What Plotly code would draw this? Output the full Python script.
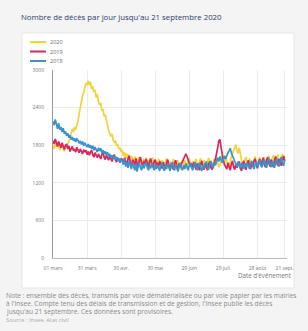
import pandas as pd
import plotly.graph_objects as go

dates = pd.date_range("2020-03-01", "2020-09-21", freq="D")

y2020 = [
    1800,1740,1830,1770,1850,1760,1720,1810,1790,1740,1700,1800,1760,1830,1860,
    1920,1990,2060,2010,2090,2050,2110,2180,2300,2410,2460,2590,2640,2720,2790,2760,
    2830,2760,2810,2700,2740,2650,2680,2560,2610,2500,2440,2470,2350,2380,2260,2290,2170,2120,2030,1990,1940,1980,1880,1850,1870,1790,1810,1740,1760,1690,
    1720,1630,1690,1590,1670,1580,1650,1550,1630,1600,1520,1620,1560,1490,1590,1610,1510,1570,1480,1580,1530,1600,1500,1560,1470,1570,1520,1600,1490,1450,1550,
    1490,1580,1510,1440,1560,1480,1420,1550,1590,1490,1450,1540,1420,1500,1580,1510,1440,1510,1560,1460,1410,1500,1560,1450,1560,1490,1430,1540,1590,1470,
    1450,1550,1440,1520,1580,1460,1420,1540,1590,1480,1440,1560,1490,1420,1520,1600,1490,1440,1430,1550,1590,1480,1610,1520,1450,1490,1580,1640,1560,1500,1620,
    1530,1480,1450,1570,1620,1670,1730,1780,1810,1710,1670,1760,1610,1550,1490,1460,1570,1610,1510,1470,1590,1520,1450,1510,1580,1620,1520,1460,1550,1610,1500,
    1470,1570,1610,1510,1460,1580,1630,1530,1480,1590,1640,1540,1480,1600,1650,1550,1500,1610,1660,1560,1620,
]
y2019 = [
    1870,1820,1900,1840,1780,1860,1810,1760,1840,1770,1730,1800,1820,1740,1790,1700,1760,1780,1710,1740,1690,1770,1720,1680,1740,1700,1660,1730,1690,1720,1650,
    1700,1640,1690,1720,1650,1610,1680,1640,1600,1660,1620,1580,1650,1690,1610,1570,1640,1600,1560,1630,1580,1540,1610,1650,1570,1530,1600,1560,1520,1590,
    1570,1500,1600,1540,1480,1580,1630,1520,1470,1570,1540,1480,1590,1510,1460,1560,1610,1510,1460,1550,1500,1580,1480,1440,1540,1590,1490,1450,1530,1570,1470,
    1520,1450,1550,1490,1430,1530,1470,1420,1520,1570,1470,1420,1510,1450,1410,1520,1560,1460,1420,1510,1450,1500,1540,1580,1620,1660,1620,1550,1510,1460,
    1510,1430,1530,1470,1410,1510,1450,1400,1500,1550,1450,1410,1510,1440,1400,1500,1540,1450,1410,1490,1520,1580,1650,1760,1870,1890,1760,1620,1550,1490,1450,
    1420,1520,1460,1400,1500,1550,1450,1410,1510,1440,1490,1540,1430,1390,1500,1550,1460,1410,1510,1560,1460,1420,1520,1470,1550,1580,1480,1430,1530,1580,1480,
    1540,1600,1490,1450,1560,1610,1510,1460,1570,1500,1450,1560,1620,1520,1470,1580,1540,1470,1580,1630,1550,
]
y2018 = [
    2180,2120,2210,2100,2060,2150,2050,2090,2010,2070,1980,2020,1950,1990,1920,1960,1890,1930,1870,1910,1850,1900,1880,1830,1870,1810,1860,1790,1840,1800,1770,
    1820,1760,1800,1740,1790,1720,1770,1730,1690,1760,1710,1750,1680,1720,1660,1700,1640,1690,1620,1660,1600,1640,1580,1620,1570,1610,1550,1590,1530,1570,
    1550,1490,1580,1460,1530,1440,1550,1480,1420,1520,1460,1400,1500,1380,1460,1520,1440,1400,1500,1430,1480,1530,1440,1400,1490,1430,1520,1450,1400,1480,1420,
    1490,1430,1390,1480,1520,1430,1390,1480,1420,1510,1440,1390,1480,1530,1430,1400,1490,1430,1380,1470,1520,1440,1400,1480,1420,1510,1450,1400,1480,1520,
    1440,1400,1490,1530,1450,1400,1480,1520,1440,1390,1480,1430,1500,1540,1450,1410,1500,1550,1470,1430,1520,1480,1550,1600,1540,1620,1570,1520,1570,1630,1580,
    1640,1680,1710,1750,1680,1620,1580,1540,1500,1460,1540,1460,1430,1520,1470,1420,1510,1450,1520,1460,1420,1510,1550,1460,1420,1500,1540,1450,1510,1560,1470,
    1450,1530,1570,1480,1440,1540,1590,1500,1450,1550,1490,1440,1540,1590,1500,1460,1560,1610,1520,1470,1570,
]

series_names = ["2020", "2019", "2018"]
series_colors = ["#f3d23a", "#d9265c", "#3b93cc"]

tick_dates = ["2020-03-01", "2020-03-31", "2020-04-30", "2020-05-30",
              "2020-06-29", "2020-07-29", "2020-08-28", "2020-09-21"]
tick_labels = ["01 mars", "31 mars", "30 avr.", "30 mai",
               "29 juin", "29 juil.", "28 août", "21 sept."]
y_ticks = [0, 600, 1200, 1800, 2400, 3000]

W, H = 308, 331
L, R, T, B = 53, 287, 70, 258  # plot area in px


def px(x):
    return (x - L) / (R - L)


def py(y):
    return (B - y) / (B - T)


FONT = "Open Sans, Noto Sans, sans-serif"

fig = go.Figure()
for name, vals, col in zip(series_names, [y2020, y2019, y2018], series_colors):
    fig.add_trace(go.Scatter(x=dates, y=vals, mode="lines", name=name,
                             line=dict(color=col, width=1.7), showlegend=False))

shapes = [
    dict(type="rect", xref="paper", yref="paper", x0=px(22), x1=px(294),
         y0=py(288), y1=py(33), fillcolor="white",
         line=dict(color="#e6e6e6", width=1), layer="below"),
]
annotations = [
    dict(text="Nombre de décès par jour jusqu'au 21 septembre 2020",
         xref="paper", yref="paper", x=px(19), y=py(17), xanchor="left",
         yanchor="middle", showarrow=False,
         font=dict(size=7.8, color="#2d3b6b", family=FONT)),
    dict(text="Date d'événement", xref="paper", yref="paper", x=px(294),
         y=py(275), xanchor="right", yanchor="middle", showarrow=False,
         font=dict(size=6.2, color="#777777", family=FONT)),
]
for i, (name, col) in enumerate(zip(series_names, series_colors)):
    yy = 42 + i * 9.5
    shapes.append(dict(type="line", xref="paper", yref="paper", x0=px(30),
                       x1=px(46), y0=py(yy), y1=py(yy),
                       line=dict(color=col, width=2)))
    annotations.append(dict(text=name, xref="paper", yref="paper", x=px(48),
                            y=py(yy), xanchor="left", yanchor="middle",
                            showarrow=False,
                            font=dict(size=5.5, color="#666666", family=FONT)))

notes = [
    ("Note : ensemble des décès, transmis par voie dématérialisée ou par voie papier par les mairies", 295, "#8a8a8a", 6.6),
    ("à l'Insee. Compte tenu des délais de transmission et de gestion, l'Insee publie les décès", 303, "#8a8a8a", 6.6),
    ("jusqu'au 21 septembre. Ces données sont provisoires.", 311, "#8a8a8a", 6.6),
    ("Source : Insee, état civil", 320, "#aaaaaa", 5.8),
]
for txt, yy, c, fs in notes:
    annotations.append(dict(text=txt, xref="paper", yref="paper", x=px(4),
                            y=py(yy), xanchor="left", yanchor="middle",
                            showarrow=False,
                            font=dict(size=fs, color=c, family=FONT)))

fig.update_layout(
    width=W, height=H,
    margin=dict(l=L, r=W - R, t=T, b=H - B, pad=0),
    paper_bgcolor="#f4f4f4",
    plot_bgcolor="white",
    font=dict(family=FONT, size=5, color="#777777"),
    shapes=shapes,
    annotations=annotations,
    xaxis=dict(
        type="date",
        range=["2020-03-01", "2020-09-23"],
        tickvals=tick_dates, ticktext=tick_labels,
        showgrid=True, gridcolor="#ececec", gridwidth=1,
        showline=True, linecolor="#bbbbbb", linewidth=1,
        ticks="outside", ticklen=5, tickcolor="rgba(0,0,0,0)",
        tickfont=dict(size=5, color="#777777"),
        zeroline=False, fixedrange=True,
    ),
    yaxis=dict(
        range=[0, 3000],
        tickvals=y_ticks, ticktext=[str(v) for v in y_ticks],
        showgrid=True, gridcolor="#ececec", gridwidth=1,
        showline=True, linecolor="#999999", linewidth=1,
        ticks="outside", ticklen=7, tickcolor="rgba(0,0,0,0)",
        tickfont=dict(size=5, color="#777777"),
        zeroline=False, fixedrange=True,
    ),
)

fig.write_html("out.html",
               post_script="document.body.style.margin='0';document.body.style.overflow='hidden';",
               config={"displayModeBar": False})
